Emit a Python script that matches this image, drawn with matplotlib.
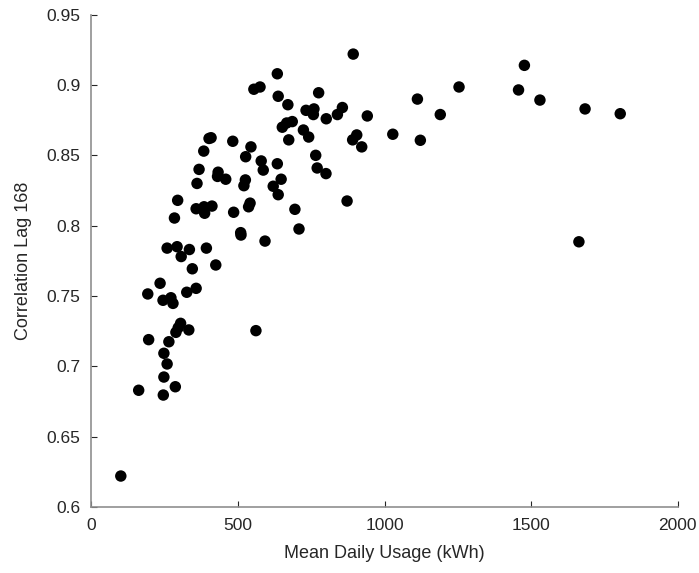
import matplotlib
matplotlib.use("Agg")
import matplotlib.pyplot as plt

plt.rcParams['font.family'] = ['Liberation Sans', 'DejaVu Sans']

mean_daily_usage = [
    893, 634, 554, 575, 637, 775, 670, 732, 759, 757, 801, 839, 856, 941,
    666, 651, 685, 723, 741, 673, 408, 401, 482, 383, 544, 526, 579, 586,
    634, 765, 770, 800, 872, 891, 905, 922, 367, 432, 430, 458, 525, 520,
    647, 620, 637, 360, 294, 357, 384, 411, 386, 485, 541, 536, 694, 283,
    258, 292, 334, 392, 306, 510, 509, 592, 708,
    344, 424, 234, 192, 244, 271, 278, 325, 357, 304, 296, 288, 332, 561,
    195, 264, 247, 258, 247, 161, 286, 245, 100,
    1477, 1254, 1112, 1190, 1028, 1122, 1457, 1530, 1684, 1804, 1663,
]
correlation_lag168 = [
    0.922, 0.908, 0.897, 0.8986, 0.892, 0.8945, 0.886, 0.882, 0.883, 0.879,
    0.876, 0.879, 0.884, 0.878, 0.873, 0.870, 0.874, 0.868, 0.863, 0.861,
    0.8625, 0.862, 0.860, 0.853, 0.856, 0.849, 0.846, 0.8395, 0.844, 0.850,
    0.841, 0.837, 0.8175, 0.861, 0.8645, 0.856, 0.840, 0.838, 0.835, 0.833,
    0.8325, 0.8284, 0.833, 0.828, 0.822, 0.830, 0.818, 0.812, 0.8134, 0.8139,
    0.8088, 0.8095, 0.816, 0.8134, 0.8116, 0.8054, 0.784, 0.785, 0.783, 0.784,
    0.778, 0.7933, 0.795, 0.789, 0.7976,
    0.7693, 0.772, 0.759, 0.7514, 0.7469, 0.7487, 0.7447, 0.7526, 0.7554,
    0.7305, 0.7274, 0.7241, 0.7258, 0.7253, 0.7189, 0.7174, 0.7092, 0.7016,
    0.6923, 0.6829, 0.6854, 0.6795, 0.6219,
    0.914, 0.8986, 0.890, 0.879, 0.865, 0.8607, 0.8965, 0.8893, 0.883,
    0.8796, 0.7885,
]

x_ticks = [0, 500, 1000, 1500, 2000]
x_tick_labels = ['0', '500', '1000', '1500', '2000']
y_ticks = [0.6, 0.65, 0.7, 0.75, 0.8, 0.85, 0.9, 0.95]
y_tick_labels = ['0.6', '0.65', '0.7', '0.75', '0.8', '0.85', '0.9', '0.95']

fig = plt.figure(figsize=(6.99, 5.73), dpi=100)
ax = fig.add_axes([0.1309, 0.1155, 0.8386, 0.8588])

ax.scatter(mean_daily_usage, correlation_lag168, s=68, c='black',
           edgecolors='none', zorder=3)

ax.set_xlim(0, 2000)
ax.set_ylim(0.6, 0.95)
ax.set_xticks(x_ticks)
ax.set_xticklabels(x_tick_labels)
ax.set_yticks(y_ticks)
ax.set_yticklabels(y_tick_labels)

for side in ['top', 'right']:
    ax.spines[side].set_visible(False)
for side in ['left', 'bottom']:
    ax.spines[side].set_color('#8f8f8f')
    ax.spines[side].set_linewidth(1.2)

ax.tick_params(direction='in', length=4.5, width=0.8, color='#262626',
               labelcolor='#262626', labelsize=12.5, pad=8)

ax.set_xlabel('Mean Daily Usage (kWh)', fontsize=13, color='#262626', labelpad=9)
ax.set_ylabel('Correlation Lag 168', fontsize=13, color='#262626', labelpad=10)

fig.savefig('out.png', dpi=100, facecolor='white')
